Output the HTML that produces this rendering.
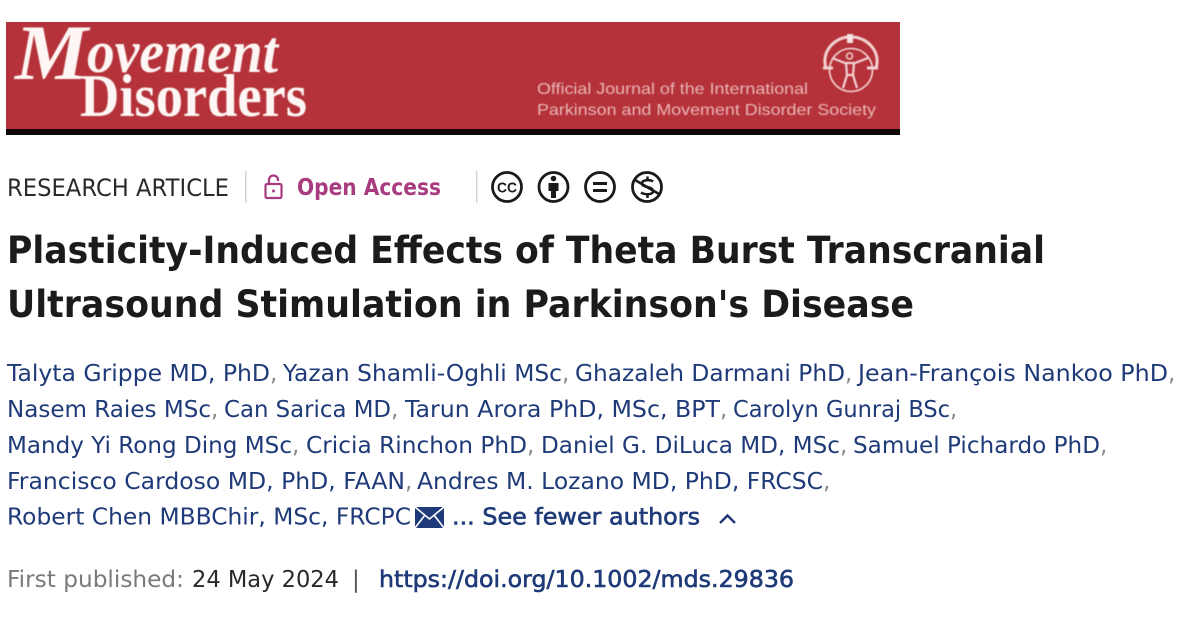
<!DOCTYPE html>
<html lang="en">
<head>
<meta charset="utf-8">
<title>Plasticity-Induced Effects of Theta Burst Transcranial Ultrasound Stimulation in Parkinson's Disease</title>
<style>
html,body{margin:0;padding:0;background:#fff;width:1200px;height:617px;overflow:hidden}
svg{display:block}
text{font-family:"DejaVu Sans","Liberation Sans",sans-serif}
.a{fill:#1f3a78;font-size:23px}
.c{fill:#8a8a8a;font-size:23px}
.sb{fill:#1f3a78;font-size:23px;stroke:#1f3a78;stroke-width:.6px}
.s{font-family:"Liberation Serif",serif;font-weight:700;fill:#fdf6f4}
.o{font-family:"Liberation Sans",sans-serif;fill:#e9b5b5;font-size:16px}
.t{fill:#1b1b1b;font-size:37px;font-weight:700}
</style>
</head>
<body>
<svg xmlns="http://www.w3.org/2000/svg" width="1200" height="617" viewBox="0 0 1200 617">
<defs><filter id="b" x="-5%" y="-5%" width="110%" height="110%"><feGaussianBlur stdDeviation="0.55"/></filter></defs>

<g>
  <rect x="6" y="22" width="894" height="113" fill="#b5323a"/>
  <rect x="6" y="129" width="894" height="6" fill="#0d0606"/>
  <g filter="url(#b)">
    <text class="s" x="15" y="79" font-size="78" font-style="italic" textLength="73" lengthAdjust="spacingAndGlyphs">M</text>
    <text class="s" x="87" y="72" font-size="60" font-style="italic" textLength="191" lengthAdjust="spacingAndGlyphs">ovement</text>
    <text class="s" x="80" y="116" font-size="60" textLength="227" lengthAdjust="spacingAndGlyphs">Disorders</text>
    <text class="o" x="537" y="94" textLength="271" lengthAdjust="spacingAndGlyphs">Official Journal of the International</text>
    <text class="o" x="537" y="115" textLength="339" lengthAdjust="spacingAndGlyphs">Parkinson and Movement Disorder Society</text>
    <g fill="none" stroke="#f3d2d2">
      <path d="M826 68 C821 52 834 38 848 37 M853 37 C868 38 881 52 876 68" stroke-width="3"/>
      <path d="M823 68 H833 M867 68 H878" stroke-width="3"/>
      <rect x="847" y="34" width="6" height="9" fill="#f6e4e4" stroke="none"/>
      <circle cx="851" cy="70" r="21.500" stroke-width="1.600"/>
      <circle cx="849.500" cy="56" r="3" stroke-width="1.500"/>
      <path d="M832 58 L845 63 H855 L868 58 M846 63 L847 75 L843 88 M854 63 L853 75 L857 88 M847 75 H853" stroke-width="2.200"/>
    </g>
  </g>
</g>

<text x="7" y="196" fill="#2a2a2a" font-size="24" textLength="222" lengthAdjust="spacingAndGlyphs">RESEARCH ARTICLE</text>
<rect x="245" y="171" width="1.5" height="32" fill="#d4d4d4"/>
<g fill="none" stroke="#a83c7f" stroke-width="2.200">
  <rect x="265.500" y="184" width="16" height="14" rx="1.500"/>
  <path d="M269 184 V180 A4.500 4.500 0 0 1 278 180 V181"/>
  <circle cx="273.500" cy="191" r="1.500" fill="#a83c7f" stroke="none"/>
</g>
<text x="297" y="195" fill="#a83c7f" font-size="23" font-weight="700" textLength="144" lengthAdjust="spacingAndGlyphs">Open Access</text>
<rect x="476" y="171" width="1.5" height="32" fill="#d4d4d4"/>

<g fill="none" stroke="#1a1a1a" stroke-width="2.800">
  <g>
    <circle cx="507" cy="187" r="14.500"/>
    <text x="507" y="192.500" text-anchor="middle" font-size="15" font-weight="700" fill="#1a1a1a" stroke="none" textLength="20" lengthAdjust="spacingAndGlyphs" style="font-family:'Liberation Sans',sans-serif">CC</text>
  </g>
  <g>
    <circle cx="553.500" cy="187" r="14.500"/>
    <circle cx="553.500" cy="178.500" r="2.800" fill="#1a1a1a" stroke="none"/>
    <path d="M548.500 183 H558.500 V191 H556 V198 H551 V191 H548.500 Z" fill="#1a1a1a" stroke="none"/>
  </g>
  <g>
    <circle cx="600" cy="187" r="14.500"/>
    <path d="M593 183.500 H607 M593 190.500 H607" stroke-width="3"/>
  </g>
  <g>
    <circle cx="647" cy="187" r="14.500"/>
    <path d="M635 180 L659 194" stroke-width="2.500"/>
    <path d="M653 181.500 C650 179.500 642 179.500 642 183.500 C642 188 653 186 653 191 C653 195 645 195 641 192.500 M647.500 176.500 V180 M647.500 194.500 V198" stroke-width="2.500"/>
  </g>
</g>

<text class="t" x="7" y="263" textLength="1038" lengthAdjust="spacingAndGlyphs">Plasticity-Induced Effects of Theta Burst Transcranial</text>
<text class="t" x="7" y="317" textLength="907" lengthAdjust="spacingAndGlyphs">Ultrasound Stimulation in Parkinson's Disease</text>

<g>
  <text class="a" x="7" y="381" textLength="263" lengthAdjust="spacingAndGlyphs">Talyta Grippe MD, PhD</text>
  <text class="c" x="270" y="381">,</text>
  <text class="a" x="283" y="381" textLength="279" lengthAdjust="spacingAndGlyphs">Yazan Shamli-Oghli MSc</text>
  <text class="c" x="562" y="381">,</text>
  <text class="a" x="575" y="381" textLength="270" lengthAdjust="spacingAndGlyphs">Ghazaleh Darmani PhD</text>
  <text class="c" x="845" y="381">,</text>
  <text class="a" x="858" y="381" textLength="310" lengthAdjust="spacingAndGlyphs">Jean-François Nankoo PhD</text>
  <text class="c" x="1168" y="381">,</text>

  <text class="a" x="7" y="417" textLength="204" lengthAdjust="spacingAndGlyphs">Nasem Raies MSc</text>
  <text class="c" x="211" y="417">,</text>
  <text class="a" x="224" y="417" textLength="167" lengthAdjust="spacingAndGlyphs">Can Sarica MD</text>
  <text class="c" x="391" y="417">,</text>
  <text class="a" x="405" y="417" textLength="315" lengthAdjust="spacingAndGlyphs">Tarun Arora PhD, MSc, BPT</text>
  <text class="c" x="720" y="417">,</text>
  <text class="a" x="733" y="417" textLength="217" lengthAdjust="spacingAndGlyphs">Carolyn Gunraj BSc</text>
  <text class="c" x="950" y="417">,</text>

  <text class="a" x="7" y="453" textLength="285" lengthAdjust="spacingAndGlyphs">Mandy Yi Rong Ding MSc</text>
  <text class="c" x="292" y="453">,</text>
  <text class="a" x="306" y="453" textLength="221" lengthAdjust="spacingAndGlyphs">Cricia Rinchon PhD</text>
  <text class="c" x="527" y="453">,</text>
  <text class="a" x="541" y="453" textLength="299" lengthAdjust="spacingAndGlyphs">Daniel G. DiLuca MD, MSc</text>
  <text class="c" x="840" y="453">,</text>
  <text class="a" x="853" y="453" textLength="247" lengthAdjust="spacingAndGlyphs">Samuel Pichardo PhD</text>
  <text class="c" x="1100" y="453">,</text>

  <text class="a" x="7" y="489" textLength="398" lengthAdjust="spacingAndGlyphs">Francisco Cardoso MD, PhD, FAAN</text>
  <text class="c" x="405" y="489">,</text>
  <text class="a" x="417" y="489" textLength="406" lengthAdjust="spacingAndGlyphs">Andres M. Lozano MD, PhD, FRCSC</text>
  <text class="c" x="823" y="489">,</text>

  <text class="a" x="7" y="524.500" textLength="404" lengthAdjust="spacingAndGlyphs">Robert Chen MBBChir, MSc, FRCPC</text>
  <g>
    <rect x="415" y="507" width="29" height="21" fill="#1f3a78"/>
    <path d="M415 507 L429.500 519 L444 507 M415 528 L425 515 M444 528 L434 515" fill="none" stroke="#fff" stroke-width="1.600"/>
  </g>
  <text class="sb" x="452" y="524.500" textLength="248" lengthAdjust="spacingAndGlyphs">... See fewer authors</text>
  <path d="M720 523 L727.500 515.500 L735 523" fill="none" stroke="#1f3a78" stroke-width="2.400"/>
</g>

<text x="7" y="587" fill="#7a7a7a" font-size="23" textLength="177" lengthAdjust="spacingAndGlyphs">First published:</text>
<text x="192" y="587" fill="#2a2a2a" font-size="23" textLength="147" lengthAdjust="spacingAndGlyphs">24 May 2024</text>
<text x="352" y="587" fill="#555" font-size="23">|</text>
<text class="sb" x="379" y="587" textLength="415" lengthAdjust="spacingAndGlyphs">https://doi.org/10.1002/mds.29836</text>
</svg>
</body>
</html>
